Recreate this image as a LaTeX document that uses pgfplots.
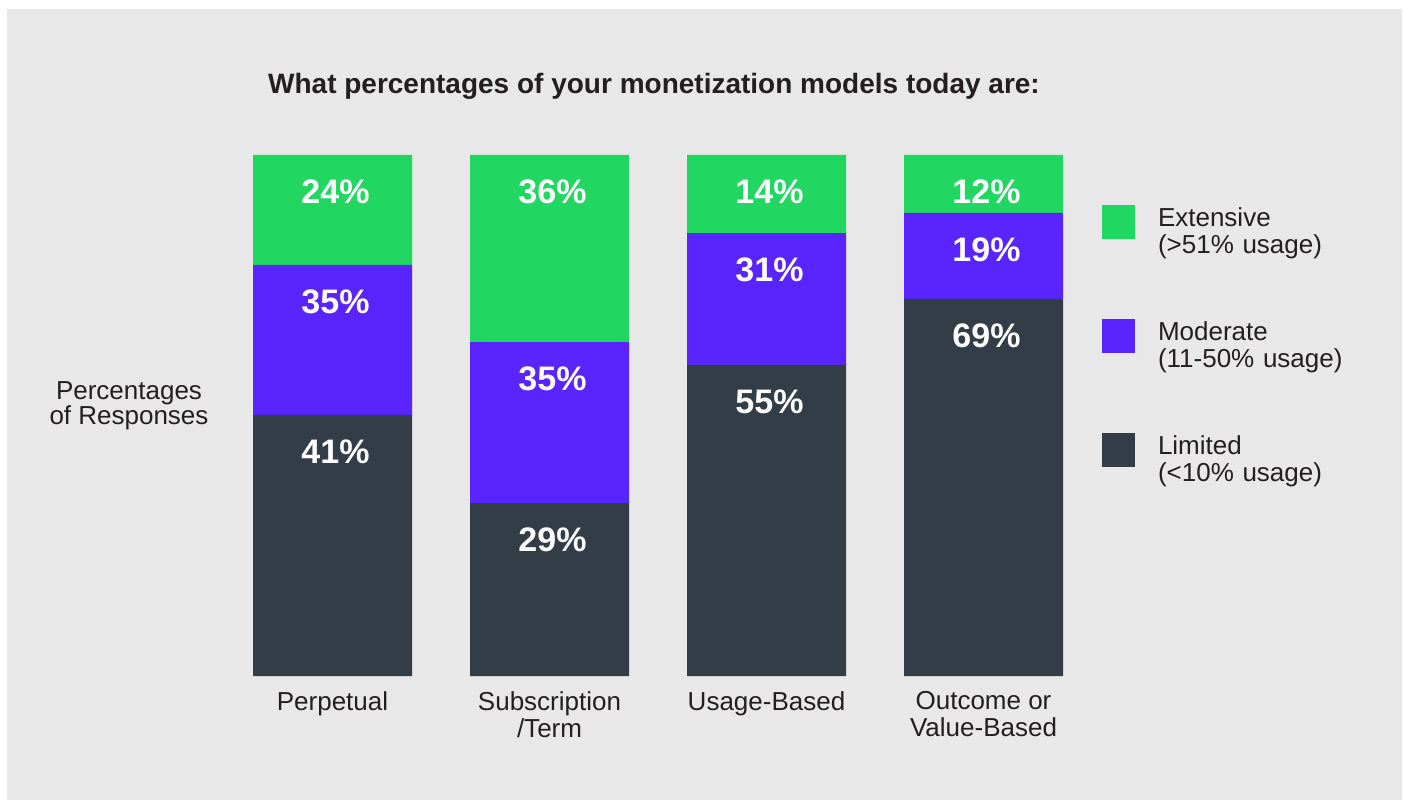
\documentclass[border=0pt]{standalone}
\usepackage{pgfplots}
\pgfplotsset{compat=1.18}
\usepackage{pgfplotstable}
\usepackage{fontspec}
\setmainfont{Liberation Sans}
\definecolor{cgreen}{RGB}{33,215,98}
\definecolor{cpurple}{RGB}{90,36,255}
\definecolor{cdark}{RGB}{51,61,72}
\definecolor{cbg}{RGB}{232,232,232}
\definecolor{ctext}{RGB}{35,31,32}

% segment heights as drawn (percent of bar), and printed labels
\pgfplotstableread{
x lim limlab mod modlab ext extlab
0 50.1 41 28.8 35 21.1 24
1 33.2 29 30.9 35 35.9 36
2 59.7 55 25.3 31 15.0 14
3 72.4 69 16.5 19 11.1 12
}\datatable

\begin{document}
\begin{tikzpicture}
\fill[white] (0pt,0pt) rectangle (1403pt,801pt);
\fill[cbg] (7pt,1pt) rectangle (1402pt,792pt);
\begin{axis}[
  anchor=origin, at={(332.5pt,125pt)},
  x=217pt, y=5.21pt,
  xmin=-0.5, xmax=3.5, ymin=0, ymax=100,
  ybar stacked, bar width=159pt,
  axis line style={draw=none},
  major tick length=0pt,
  ytick=\empty,
  xtick={0,1,2,3},
  xticklabels={Perpetual, Subscription\\/Term, Usage-Based, Outcome or\\Value-Based},
  xticklabel style={align=center, font=\fontsize{26}{27}\selectfont, text=ctext, inner sep=0pt, yshift=-15pt},
  clip=false,
  point meta=explicit symbolic,
  visualization depends on={rawy \as \segh},
  nodes near coords={\pgfplotspointmeta\%},
  every node near coord/.append style={font=\bfseries\fontsize{34}{34}\selectfont, text=white, anchor=center, xshift=3pt, yshift={\segh*2.605pt-37pt}},
  area legend,
  legend image code/.code={\fill[#1] (0pt,-21pt) rectangle (33pt,13pt);},
  reverse legend,
  legend cell align=left,
  legend style={at={(1.01152,0.90403)}, anchor=north west, draw=none, fill=none,
    inner sep=0pt, outer sep=0pt, row sep=80pt,
    font=\fontsize{26}{27}\selectfont, text=ctext,
    nodes={text width=240pt, align=left, inner sep=0pt},
    /tikz/every odd column/.append style={column sep=23pt}},
]
\addplot[fill=cdark, draw=none] table[x=x, y=lim, meta=limlab] {\datatable};
\addplot[fill=cpurple, draw=none] table[x=x, y=mod, meta=modlab] {\datatable};
\addplot[fill=cgreen, draw=none] table[x=x, y=ext, meta=extlab] {\datatable};
\legend{Limited\\(<10\% usage), Moderate\\(11-50\% usage), Extensive\\(>51\% usage)}
\end{axis}
\node[anchor=base, font=\bfseries\fontsize{28}{28}\selectfont, text=ctext] at (654pt,707pt) {What percentages of your monetization models today are:};
\node[anchor=center, align=center, font=\fontsize{26}{24}\selectfont, text=ctext] at (129pt,395pt) {Percentages\\of Responses};
\end{tikzpicture}
\end{document}
